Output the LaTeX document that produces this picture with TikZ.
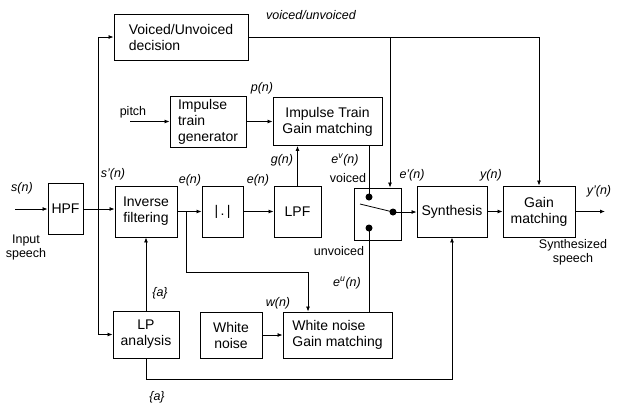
\documentclass[tikz,border=0pt]{standalone}
\usepackage{fontspec}
\setmainfont{Liberation Sans}
\usetikzlibrary{arrows.meta}

\begin{document}
\begin{tikzpicture}[x=1pt, y=-1pt,
    blk/.style={draw, line width=0.9pt, inner sep=2pt, align=center, font=\fontsize{14}{16}\selectfont},
    lbl/.style={inner sep=0pt, font=\fontsize{12.5}{14}\selectfont\itshape},
    txt/.style={inner sep=0pt, align=center, font=\fontsize{12.5}{14}\selectfont},
    arr/.style={line width=0.8pt, -{Latex[length=5pt,width=4pt]}},
    ln/.style={line width=0.8pt}]
    \def\dotR{3.5pt}

    \useasboundingbox (0,0) rectangle (622,405);

    % Blocks of the top part
    \node[blk, align=left, minimum width=134pt, minimum height=46pt] (vud) at (181,37) {Voiced/Unvoiced\\decision};
    \node[blk, align=left, minimum width=76pt, minimum height=51pt] (itg) at (208,121.5) {Impulse\\train\\generator};
    \node[blk, minimum width=109pt, minimum height=48pt] (itgm) at (327.5,121.5) {Impulse Train\\Gain matching};

    % Blocks of the middle row
    \node[blk, minimum width=35pt, minimum height=51pt] (hpf) at (65.5,209) {HPF};
    \node[blk, minimum width=62pt, minimum height=51pt] (inv) at (146,211.5) {Inverse\\filtering};
    \node[blk, minimum width=41pt, minimum height=51pt] (abs) at (222.5,211.5) {|\,.\,|};
    \node[blk, minimum width=47pt, minimum height=51pt] (lpf) at (297.5,211.5) {LPF};
    \node[blk, minimum width=47pt, minimum height=52pt] (sw) at (377.5,214) {};
    \node[blk, minimum width=70pt, minimum height=51pt] (syn) at (452,211.5) {Synthesis};
    \node[blk, minimum width=72pt, minimum height=51pt] (gm) at (539,211.5) {Gain\\matching};

    % Blocks of the bottom row
    \node[blk, minimum width=66pt, minimum height=47pt] (lpa) at (146,334.5) {LP\\analysis};
    \node[blk, minimum width=62pt, minimum height=46pt] (wn) at (231,335) {White\\noise};
    \node[blk, align=left, minimum width=109pt, minimum height=46pt] (wngm) at (337.5,335) {White noise\\Gain matching};

    % Switch contacts
    \coordinate (swt) at (369,197);
    \coordinate (swb) at (369,228);
    \coordinate (swr) at (393,212);
    \coordinate (swp) at (360,204);
    \fill (swt) circle (\dotR);
    \fill (swb) circle (\dotR);
    \fill (swr) circle (\dotR);
    \draw[ln] (swp) -- (swr);

    % Input and s'(n) branch
    \coordinate (sin) at (15,209);
    \coordinate (sv) at (98,209);
    \draw[arr] (sin) -- (hpf.west);
    \draw[arr] (hpf.east) -- (hpf.east -| inv.west);
    \draw[arr] (sv) |- (vud.west);
    \draw[arr] (sv) |- (lpa.west);

    % e(n) path
    \coordinate (eb) at (186,211.5);
    \coordinate (eturn) at (186,272);
    \draw[arr] (inv.east) -- (abs.west);
    \draw[arr] (abs.east) -- (lpf.west);
    \draw[arr] (eb) -- (eturn) -| ([xshift=-29.5pt]wngm.north);
    \draw[arr] (lpf.north) -- (lpf.north |- itgm.south);

    % Pitch and impulse train
    \coordinate (pin) at (130,121.5);
    \draw[arr] (pin) -- (itg.west);
    \draw[arr] (itg.east) -- (itgm.west);

    % Voiced/unvoiced decision lines
    \coordinate (vusw) at (390,37);
    \coordinate (vuend) at (539,37);
    \draw[ln] (vud.east) -- (vuend);
    \draw[arr] (vusw) -- (vusw |- sw.north);
    \draw[arr] (vuend) -- (gm.north);

    % Excitation into the switch
    \draw[ln] (itgm.south -| swt) -- (swt);
    \draw[ln] (wngm.north -| swb) -- (swb);
    \draw[arr] (swr) -- (swr -| syn.west);
    \draw[arr] (syn.east) -- (gm.west);
    \coordinate (yout) at (605,211.5);
    \draw[arr] (gm.east) -- (yout);

    % LP coefficients
    \coordinate (abot) at (146,379);
    \draw[arr] (lpa.north) -- (inv.south);
    \draw[arr] (lpa.south) -- (abot) -| (syn.south);
    \draw[arr] (wn.east) -- (wngm.west);

    % Signal labels
    \node[lbl] (lsn) at (22,188) {s(n)};
    \node[txt] (lin) at (26,247) {Input\\speech};
    \node[lbl] (lsp) at (113,174) {s'(n)};
    \node[lbl] (le1) at (190,180) {e(n)};
    \node[lbl] (le2) at (258,180) {e(n)};
    \node[lbl] (lg) at (282,160) {g(n)};
    \node[lbl] (lp) at (262,88) {p(n)};
    \node[txt] (lpitch) at (133,112) {pitch};
    \node[lbl] (lvu) at (311,15) {voiced/unvoiced};
    \node[lbl] (lev) at (345,160) {e\textsuperscript{v}(n)};
    \node[txt] (lvo) at (348,178) {voiced};
    \node[lbl] (lep) at (412,175) {e'(n)};
    \node[lbl] (ly) at (491,175) {y(n)};
    \node[lbl] (lyp) at (599,191) {y'(n)};
    \node[txt] (luv) at (339,251) {unvoiced};
    \node[lbl] (leu) at (347,283) {e\textsuperscript{u}(n)};
    \node[lbl] (lw) at (278,303) {w(n)};
    \node[lbl] (la1) at (160,293) {\{a\}};
    \node[lbl] (la2) at (157,397) {\{a\}};
    \node[txt] (lss) at (573,252) {Synthesized\\speech};

\end{tikzpicture}
\end{document}
